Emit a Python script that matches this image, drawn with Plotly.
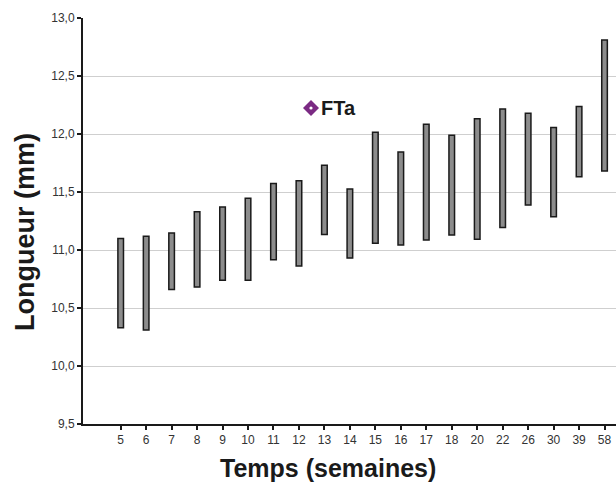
import plotly.graph_objects as go

weeks = ["5", "6", "7", "8", "9", "10", "11", "12", "13", "14",
         "15", "16", "17", "18", "20", "22", "26", "30", "39", "58"]
low = [10.33, 10.31, 10.66, 10.68, 10.74, 10.74, 10.915, 10.863, 11.133, 10.93,
       11.058, 11.043, 11.086, 11.129, 11.092, 11.193, 11.387, 11.287, 11.632, 11.681]
high = [11.10, 11.118, 11.147, 11.33, 11.37, 11.446, 11.574, 11.597, 11.73, 11.525,
        12.015, 11.845, 12.084, 11.99, 12.132, 12.216, 12.178, 12.055, 12.236, 12.81]
y_ticks = [9.5, 10.0, 10.5, 11.0, 11.5, 12.0, 12.5, 13.0]
legend_label = "FTa"
x_title = "Temps (semaines)"
y_title = "Longueur (mm)"

W, H = 616, 488
L_S, R_S, T_S, B_S = 83, 616, 18, 424  # plot area in screen pixels
ML, MR, MT, MB = L_S, W - R_S, T_S, H - B_S

fig = go.Figure()
fig.add_trace(go.Bar(
    x=weeks,
    y=[h - l for h, l in zip(high, low)],
    base=low,
    width=0.22,
    marker=dict(color="#8c8c8c", line=dict(color="#1a1a1a", width=1.5)),
    showlegend=False,
    hoverinfo="skip",
    cliponaxis=False,
))

pw, ph = R_S - L_S, B_S - T_S
def px(x):
    return (x - L_S) / pw
def py(y):
    return (B_S - y) / ph

cx, cy, r = 311, 108, 8
path = "M {} {} L {} {} L {} {} L {} {} Z".format(
    px(cx - r), py(cy), px(cx), py(cy - r), px(cx + r), py(cy), px(cx), py(cy + r))
fig.add_shape(type="path", path=path, xref="paper", yref="paper",
              fillcolor="#7B2A83", line=dict(color="#7B2A83", width=0))
fig.add_shape(type="circle", xref="paper", yref="paper",
              x0=px(cx - 1.6), x1=px(cx + 1.6), y0=py(cy + 1.6), y1=py(cy - 1.6),
              fillcolor="white", line=dict(width=0))
fig.add_annotation(text="<b>" + legend_label + "</b>", xref="paper", yref="paper",
                   x=px(319), y=py(108), xanchor="left", yanchor="middle",
                   showarrow=False, font=dict(size=20, color="#1a1a1a"))

# axis titles
fig.add_annotation(text="<b>" + x_title + "</b>", xref="paper", yref="paper",
                   x=px(328), y=py(468), xanchor="center", yanchor="middle",
                   showarrow=False, font=dict(size=25, color="#1a1a1a"))
fig.add_annotation(text="<b>" + y_title + "</b>", xref="paper", yref="paper",
                   x=px(25), y=py(232), xanchor="center", yanchor="middle", textangle=-90,
                   showarrow=False, font=dict(size=27, color="#1a1a1a"))

fig.update_layout(
    width=W, height=H,
    margin=dict(l=ML, r=MR, t=MT, b=MB, autoexpand=False),
    paper_bgcolor="white", plot_bgcolor="white",
    separators=", ",
    font=dict(family="Liberation Sans, Arial", color="#333333"),
    xaxis=dict(
        type="category",
        range=[-1.48, 19.45],
        automargin=False,
        showline=True, linecolor="#1a1a1a", linewidth=2,
        ticks="outside", ticklen=4, tickwidth=1.5, tickcolor="#1a1a1a",
        showgrid=False,
        tickfont=dict(size=12, color="#333333"),
    ),
    yaxis=dict(
        range=[9.5, 13.0],
        automargin=False,
        tickvals=y_ticks,
        tickformat=".1f",
        showline=True, linecolor="#1a1a1a", linewidth=2,
        ticks="outside", ticklen=4, tickwidth=1.5, tickcolor="#1a1a1a",
        showgrid=True, gridcolor="#cfcfcf", gridwidth=1,
        zeroline=False,
        tickfont=dict(size=12, color="#333333"),
    ),
)

fig.write_html("out.html",
               config={"displayModeBar": False},
               post_script="document.body.style.margin='0';document.body.style.overflow='hidden';")
